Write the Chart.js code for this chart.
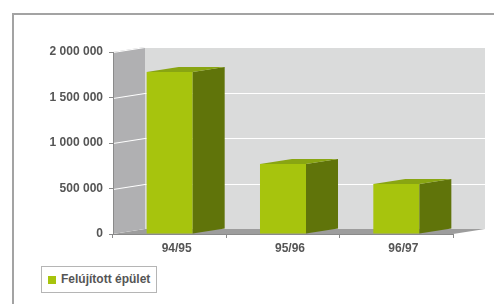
<!DOCTYPE html>
<html>
<head>
<meta charset="utf-8">
<script src="https://cdn.jsdelivr.net/npm/chart.js@4.4.1/dist/chart.umd.min.js"></script>
<style>
  body { margin: 0; background: #fff; }
  #wrap { position: relative; width: 494px; height: 304px; }
  #legend {
    position: absolute; left: 41px; top: 266px; width: 114px; height: 25px;
    border: 1px solid #b5b5b5; background: #fff;
    font: bold 12px "Liberation Sans", Arial, sans-serif; color: #555;
  }
  #legend .sw { position: absolute; left: 6px; top: 9px; width: 8px; height: 8px; background: #a7c40d; }
  #legend .lbl { position: absolute; left: 19px; top: 5px; white-space: nowrap; }
</style>
</head>
<body>
<div id="wrap">
  <canvas id="chart" width="494" height="304"></canvas>
  <div id="legend"><span class="sw"></span><span class="lbl">Felújított épület</span></div>
</div>
<script>
const categories = ['94/95', '95/96', '96/97'];
const seriesName = 'Felújított épület';
const values = [1780000, 770000, 550000];
const yTicks = [0, 500000, 1000000, 1500000, 2000000];

// 3D depth offset
const DX = 32, DY = -5;

function poly(ctx, pts) {
  ctx.beginPath();
  ctx.moveTo(pts[0][0], pts[0][1]);
  for (let i = 1; i < pts.length; i++) ctx.lineTo(pts[i][0], pts[i][1]);
  ctx.closePath();
  ctx.fill();
}

const threeD = {
  id: 'threeD',
  beforeDraw(chart) {
    const { ctx, chartArea: a } = chart;
    ctx.save();
    // outer frame
    ctx.strokeStyle = '#a3a3a3';
    ctx.lineWidth = 2;
    ctx.strokeRect(13, 14, 600, 400);
    // left wall
    ctx.fillStyle = '#b0b0b2';
    poly(ctx, [[a.left, a.top], [a.left + DX, a.top + DY], [a.left + DX, a.bottom + DY], [a.left, a.bottom]]);
    // back wall
    ctx.fillStyle = '#dadbdb';
    ctx.fillRect(a.left + DX, a.top + DY, a.right - a.left, a.bottom - a.top);
    // grid lines on walls
    const ys = chart.scales.y;
    ctx.strokeStyle = '#ffffff';
    ctx.lineWidth = 1;
    ys.ticks.forEach(t => {
      const py = Math.round(ys.getPixelForValue(t.value)) + 0.5;
      ctx.beginPath();
      ctx.moveTo(a.left, py);
      ctx.lineTo(a.left + DX, py + DY);
      ctx.lineTo(a.right + DX, py + DY);
      ctx.stroke();
    });
    // floor
    ctx.fillStyle = '#9d9d9d';
    poly(ctx, [[a.left, a.bottom], [a.right, a.bottom], [a.right + DX, a.bottom + DY], [a.left + DX, a.bottom + DY]]);
    ctx.restore();
  },
  afterDatasetsDraw(chart) {
    const { ctx } = chart;
    ctx.save();
    chart.getDatasetMeta(0).data.forEach(bar => {
      const { x, y, base, width } = bar.getProps(['x', 'y', 'base', 'width'], true);
      const l = x - width / 2, r = x + width / 2;
      // side face
      ctx.fillStyle = '#60740a';
      poly(ctx, [[r, y], [r + DX, y + DY], [r + DX, base + DY], [r, base]]);
      // top face
      ctx.fillStyle = '#89a512';
      poly(ctx, [[l, y], [r, y], [r + DX, y + DY], [l + DX, y + DY]]);
    });
    ctx.restore();
  }
};

const tickFont = { family: '"Liberation Sans", Arial, sans-serif', size: 12, weight: 'bold' };

new Chart(document.getElementById('chart'), {
  type: 'bar',
  data: {
    labels: categories,
    datasets: [{
      label: seriesName,
      data: values,
      backgroundColor: '#a7c40d',
      borderWidth: 0,
      categoryPercentage: 1,
      barPercentage: 0.406
    }]
  },
  options: {
    responsive: false,
    animation: false,
    layout: { padding: { left: 0, right: 41, top: 52, bottom: 50 } },
    plugins: { legend: { display: false }, tooltip: { enabled: false } },
    scales: {
      y: {
        min: 0,
        max: 2000000,
        afterFit(s) { s.width = 113; },
        afterBuildTicks(s) { s.ticks = yTicks.map(v => ({ value: v })); },
        ticks: {
          color: '#555',
          font: tickFont,
          padding: 6,
          callback: v => v.toLocaleString('en-US').replace(/,/g, ' ')
        },
        grid: { drawOnChartArea: false, tickLength: 4, color: '#8a8a8a' },
        border: { color: '#8a8a8a' }
      },
      x: {
        afterFit(s) { s.height = 20; },
        ticks: { color: '#555', font: tickFont, labelOffset: 7, padding: 3 },
        grid: { offset: true, drawOnChartArea: false, tickLength: 4, color: '#8a8a8a' },
        border: { color: '#8a8a8a' }
      }
    }
  },
  plugins: [threeD]
});
</script>
</body>
</html>
